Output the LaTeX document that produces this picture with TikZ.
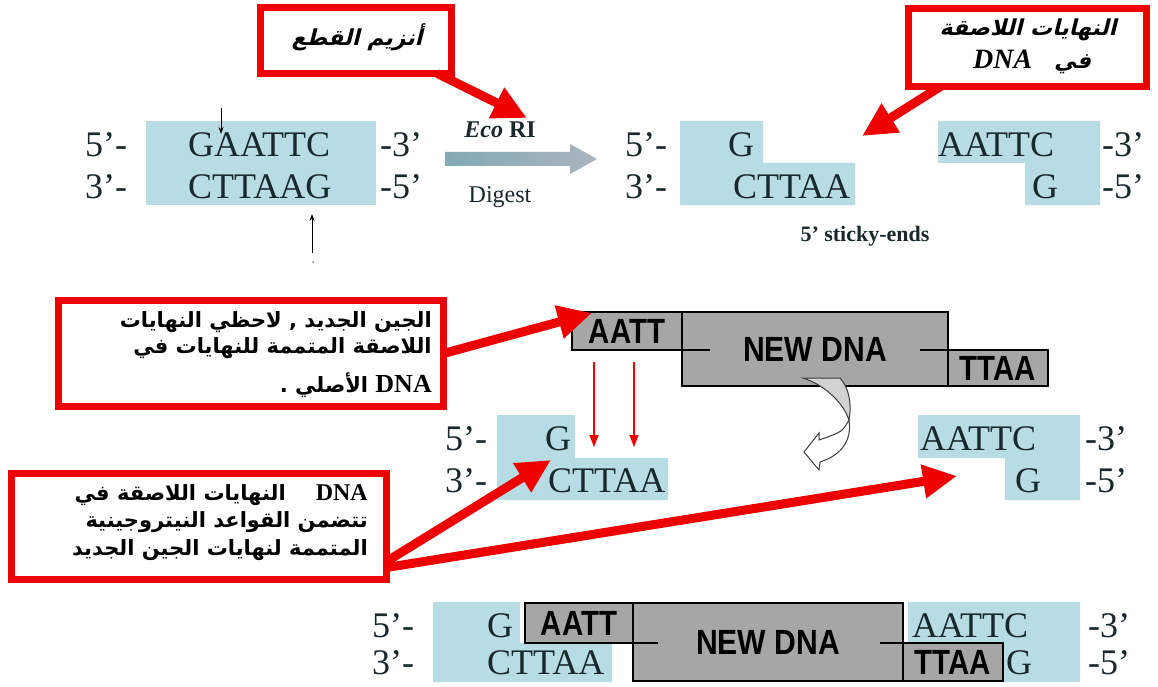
\documentclass[tikz,border=0pt]{standalone}
\usepackage{fontspec}
\setmainfont{Liberation Serif}
\setsansfont{Liberation Sans}
\newfontfamily\arabicfont[Script=Arabic]{DejaVu Sans}
\newfontfamily\arabicslant[Script=Arabic,FakeSlant=0.25]{DejaVu Sans}
\TeXXeTstate=1
\usetikzlibrary{arrows.meta}
\definecolor{myred}{RGB}{238,0,0}
\definecolor{dnablue}{RGB}{184,220,228}
\definecolor{boxgray}{RGB}{166,166,166}
\definecolor{dnatext}{RGB}{25,40,45}
\definecolor{arrowA}{RGB}{130,170,180}
\definecolor{arrowB}{RGB}{170,180,190}
\tikzset{
  redbox/.style={draw=myred, line width=7pt, fill=white, inner sep=0pt, outer sep=0pt},
  redarrow/.style={draw=myred, line width=9pt, -{Triangle[length=34pt,width=32pt]}},
  thinred/.style={draw=myred, line width=1.5pt, -{Triangle[length=12pt,width=9pt]}},
  blackarrow/.style={line width=1pt, -{Stealth[length=7pt,width=5pt]}},
  graybox/.style={draw=black, line width=1.2pt, fill=boxgray, inner sep=0pt, outer sep=0pt,
    font=\sffamily\bfseries\fontsize{35}{35}\selectfont},
  dna/.style={anchor=base west, inner sep=0pt, font=\fontsize{36}{36}\selectfont, text=dnatext},
  bluefill/.style={fill=dnablue},
  artext/.style={inner sep=0pt, font=\fontsize{21}{21}\selectfont},
  linkline/.style={line width=1.2pt},
}
\begin{document}
\begin{tikzpicture}[x=1pt,y=-1pt]
\useasboundingbox (0,0) rectangle (1158,687);
\fill[white] (0,0) rectangle (1158,687);

% ---------- blue DNA backgrounds ----------
\fill[bluefill] (146,121) rectangle (376,205);
\fill[bluefill] (680,121) -- (763,121) -- (763,163) -- (855,163) -- (855,205) -- (680,205) -- cycle;
\fill[bluefill] (938,121) -- (1100,121) -- (1100,205) -- (1025,205) -- (1025,163) -- (938,163) -- cycle;
\fill[bluefill] (497,415) -- (575,415) -- (575,458) -- (668,458) -- (668,500) -- (497,500) -- cycle;
\fill[bluefill] (918,415) -- (1080,415) -- (1080,500) -- (1005,500) -- (1005,458) -- (918,458) -- cycle;
\fill[bluefill] (433,602) -- (520,602) -- (520,643) -- (612,643) -- (612,682) -- (433,682) -- cycle;
\fill[bluefill] (908,602) -- (1080,602) -- (1080,682) -- (1003,682) -- (1003,643) -- (908,643) -- cycle;

% ---------- top left DNA ----------
\node[dna] (t5a) at (85,157) {5’-};
\node[dna] (t3a) at (85,198) {3’-};
\node[dna] (tseq1) at (188,157) {GAATTC};
\node[dna] (tseq2) at (188,198) {CTTAAG};
\node[dna] (t3b) at (380,157) {-3’};
\node[dna] (t5b) at (380,198) {-5’};
\coordinate (cutTopS) at (221,108);
\coordinate (cutTopE) at (221,134);
\coordinate (cutBotS) at (312,253);
\coordinate (cutBotE) at (312,214);
\draw[blackarrow] (cutTopS) -- (cutTopE);
\draw[blackarrow] (cutBotS) -- (cutBotE);
\fill[gray] (313,262) circle (1pt);

% ---------- digest arrow ----------
\node[inner sep=0pt, font=\bfseries\fontsize{24}{24}\selectfont, text=dnatext] (eco) at (500,130) {\textit{Eco} RI};
\node[inner sep=0pt, font=\fontsize{24}{24}\selectfont, text=dnatext] (digest) at (500,197) {Digest};
\shade[left color=arrowA, right color=arrowB] (445,152) -- (570,152) -- (570,144) -- (597,159) -- (570,174) -- (570,166) -- (445,166) -- cycle;

% ---------- top right DNA ----------
\node[dna] (r5a) at (625,157) {5’-};
\node[dna] (r3a) at (625,198) {3’-};
\node[dna] (rg1) at (728,157) {G};
\node[dna] (rct) at (733,198) {CTTAA};
\node[dna] (raat) at (938,157) {AATTC};
\node[dna] (rg2) at (1032,198) {G};
\node[dna] (r3b) at (1102,157) {-3’};
\node[dna] (r5b) at (1102,198) {-5’};
\node[inner sep=0pt, font=\bfseries\fontsize{22}{22}\selectfont, text=dnatext] (sticky) at (865,236) {5’ sticky-ends};

% ---------- red box 1 ----------
\node[redbox, minimum width=191pt, minimum height=66pt] (box1) at (356,40.5) {};
\node[artext, font=\fontsize{22}{22}\selectfont] (box1t) at (357,37) {\arabicslant\bfseries\beginR أنزيم القطع\endR};
\coordinate (box1s) at ([xshift=-14pt]box1.south east);
\coordinate (box1tip) at (527,118);
\draw[redarrow] (box1s) -- (box1tip);

% ---------- red box 2 ----------
\node[redbox, minimum width=238pt, minimum height=78pt] (box2) at (1027.5,47.5) {};
\node[artext, font=\fontsize{22}{22}\selectfont] (box2a) at (1028,30) {\arabicslant\bfseries\beginR النهايات اللاصقة\endR};
\node[artext, font=\fontsize{22}{22}\selectfont] (box2b) at (1032,62) {\arabicslant\bfseries\beginR في\quad\beginL{\rmfamily\fontsize{28}{28}\selectfont\textbf{\textit{DNA}}}\endL\endR};
\coordinate (box2s) at ([xshift=32pt]box2.south west);
\coordinate (box2tip) at (862,136);
\draw[redarrow] (box2s) -- (box2tip);

% ---------- NEW DNA (middle) ----------
\node[graybox, minimum width=266pt, minimum height=74pt] (newdna1) at (815,349) {\scalebox{0.86}[1]{NEW DNA}};
\node[graybox, minimum width=110pt, minimum height=38pt] (aatt1) at (627,331) {\scalebox{0.84}[1]{AATT}};
\node[graybox, minimum width=100pt, minimum height=36pt] (ttaa1) at (998,368) {\scalebox{0.84}[1]{TTAA}};
\draw[linkline] (aatt1.south east) -- ++(28,0);
\draw[linkline] (ttaa1.north west) -- ++(-28,0);

% curved turning arrow
\draw[line width=1pt, fill={rgb,255:red,210;green,210;blue,210}, draw={rgb,255:red,60;green,60;blue,60}]
  (803,378) .. controls (822,384) and (842,400) .. (849,420)
  .. controls (852,404) and (849,388) .. (840,378) -- cycle;
\draw[line width=1pt, fill=white, draw={rgb,255:red,60;green,60;blue,60}]
  (849,420) .. controls (842,432) .. (819,440) -- (819,433) -- (804,452) -- (819,470) -- (820,462)
  .. controls (842,455) and (852,440) .. (849,420) -- cycle;

% thin red arrows
\coordinate (ra1s) at (594,362); \coordinate (ra1e) at (594,447);
\coordinate (ra2s) at (634,362); \coordinate (ra2e) at (634,447);
\draw[thinred] (ra1s) -- (ra1e);
\draw[thinred] (ra2s) -- (ra2e);

% ---------- middle DNA pieces ----------
\node[dna] (m5a) at (445,450) {5’-};
\node[dna] (m3a) at (445,492) {3’-};
\node[dna] (mg1) at (545,450) {G};
\node[dna] (mct) at (548,492) {CTTAA};
\node[dna] (maat) at (920,450) {AATTC};
\node[dna] (mg2) at (1015,492) {G};
\node[dna] (m3b) at (1085,450) {-3’};
\node[dna] (m5b) at (1085,492) {-5’};

% ---------- red box 3 ----------
\node[redbox, minimum width=385pt, minimum height=106pt] (box3) at (251,353.5) {};
\node[artext, anchor=east] (box3a) at (432,322) {\arabicfont\bfseries\beginR الجين الجديد , لاحظي النهايات\endR};
\node[artext, anchor=east] (box3b) at (432,348) {\arabicfont\bfseries\beginR اللاصقة المتممة للنهايات في\endR};
\node[artext, anchor=east] (box3c) at (432,385) {\arabicfont\bfseries\beginR\beginL{\rmfamily\bfseries\fontsize{26}{26}\selectfont DNA}\endL\ الأصلي .\endR};
\coordinate (box3s) at (box3.east);
\coordinate (box3tip) at (592,313);
\draw[redarrow] (box3s) -- (box3tip);

% ---------- red box 4 ----------
\node[redbox, minimum width=375pt, minimum height=106pt] (box4) at (199,526.5) {};
\node[artext, anchor=east] (box4a) at (368,495) {{\arabicfont\bfseries\beginR النهايات اللاصقة في\endR}\hspace{30pt}{\rmfamily\bfseries\fontsize{24}{24}\selectfont DNA}};
\node[artext, anchor=east] (box4b) at (368,522) {\arabicfont\bfseries\beginR تتضمن  القواعد النيتروجينية\endR};
\node[artext, anchor=east] (box4c) at (368,550) {\arabicfont\bfseries\beginR المتممة لنهايات الجين الجديد\endR};
\coordinate (box4s1) at ([yshift=18pt]box4.south east);
\coordinate (box4s2) at ([yshift=12pt]box4.south east);
\coordinate (box4tip1) at (551,460);
\coordinate (box4tip2) at (957,476);
\draw[redarrow] (box4s1) -- (box4tip1);
\draw[redarrow] (box4s2) -- (box4tip2);

% ---------- bottom ligated DNA ----------
\node[graybox, minimum width=270pt, minimum height=78pt] (newdna2) at (768,642) {\scalebox{0.86}[1]{NEW DNA}};
\node[graybox, minimum width=108pt, minimum height=40pt] (aatt2) at (579,623) {\scalebox{0.84}[1]{AATT}};
\node[graybox, minimum width=100pt, minimum height=38pt] (ttaa2) at (953,662) {\scalebox{0.84}[1]{TTAA}};
\draw[linkline] (aatt2.south east) -- ++(25,0);
\draw[linkline] (ttaa2.north west) -- ++(-23,0);
\node[dna] (b5a) at (372,637) {5’-};
\node[dna] (b3a) at (372,674) {3’-};
\node[dna] (bg1) at (487,637) {G};
\node[dna] (bct) at (487,674) {CTTAA};
\node[dna] (baat) at (912,637) {AATTC};
\node[dna] (bg2) at (1006,674) {G};
\node[dna] (b3b) at (1088,637) {-3’};
\node[dna] (b5b) at (1088,674) {-5’};
\end{tikzpicture}
\end{document}
